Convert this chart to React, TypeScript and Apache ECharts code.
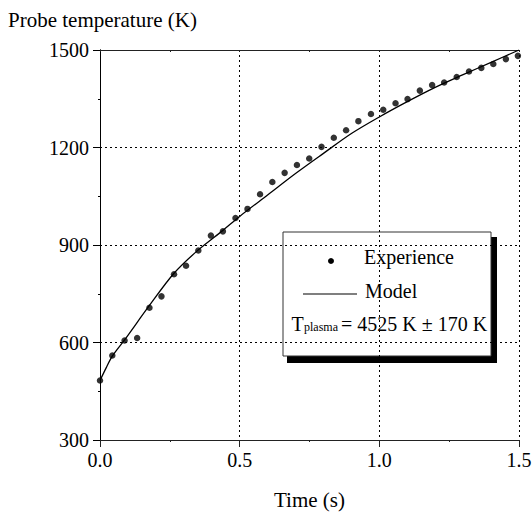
import React, { useEffect, useRef } from "react";
import * as echarts from "echarts";

const expTime = [0, 0.044, 0.088, 0.133, 0.177, 0.22, 0.265, 0.308, 0.352, 0.397, 0.44, 0.485, 0.528, 0.573, 0.617, 0.661, 0.705, 0.749, 0.793, 0.837, 0.881, 0.925, 0.97, 1.014, 1.058, 1.101, 1.145, 1.189, 1.232, 1.277, 1.321, 1.365, 1.408, 1.453, 1.496];
const expTemp = [483, 560, 606, 614, 707, 742, 810, 836, 883, 929, 942, 983, 1011, 1056, 1094, 1122, 1146, 1166, 1202, 1230, 1253, 1281, 1303, 1316, 1336, 1349, 1375, 1392, 1400, 1417, 1434, 1445, 1457, 1472, 1482];

const modelTime = [0, 0.022, 0.044, 0.088, 0.177, 0.265, 0.352, 0.44, 0.5, 0.6, 0.7, 0.8, 0.9, 1.0, 1.1, 1.2, 1.3, 1.4, 1.5];
const modelTemp = [483, 522, 558, 608, 714, 813, 885, 945, 988, 1054, 1120, 1182, 1243, 1294, 1341, 1385, 1424, 1462, 1500];

const yTitle = "Probe temperature (K)";
const xTitle = "Time (s)";
const legendExp = "Experience";
const legendModel = "Model";
const tLabelMain = "T";
const tLabelSub = "plasma";
const tLabelValue = "= 4525 K ± 170 K";

const FONT = "'Liberation Serif', 'Times New Roman', serif";

export default function App() {
  const ref = useRef<HTMLDivElement>(null);
  useEffect(() => {
    if (!ref.current) return;
    const chart = echarts.init(ref.current, null, { renderer: "svg" });
    const axisColor = "#222";
    chart.setOption({
      animation: false,
      backgroundColor: "#fff",
      title: {
        text: yTitle,
        left: 8,
        top: 9,
        padding: 0,
        textStyle: { fontFamily: FONT, fontSize: 21, fontWeight: "normal", color: "#000" },
      },
      grid: { left: 100, right: 13, top: 50, bottom: 72, containLabel: false, outerBoundsMode: "none" },
      xAxis: [
        {
          type: "value",
          position: "bottom",
          min: 0,
          max: 1.5,
          interval: 0.5,
          name: xTitle,
          nameLocation: "middle",
          nameGap: 49,
          nameTextStyle: { fontFamily: FONT, fontSize: 21, color: "#000" },
          axisLine: { show: true, lineStyle: { color: axisColor, width: 1 } },
          axisTick: { show: true, inside: false, length: 7, lineStyle: { color: axisColor } },
          minorTick: { show: true, splitNumber: 2, length: 2, lineStyle: { color: axisColor } },
          axisLabel: {
            fontFamily: FONT,
            fontSize: 20,
            color: "#000",
            margin: 10,
            formatter: (v: number) => v.toFixed(1),
          },
          splitLine: { show: true, lineStyle: { color: "#000", type: [2, 3], width: 1 } },
        },
        {
          type: "value",
          position: "top",
          min: 0,
          max: 1.5,
          interval: 0.25,
          axisLine: { show: true, lineStyle: { color: axisColor, width: 1 } },
          axisTick: { show: true, inside: true, length: 2, lineStyle: { color: axisColor } },
          axisLabel: { show: false },
          splitLine: { show: false },
        },
      ],
      yAxis: [
        {
          type: "value",
          position: "left",
          min: 300,
          max: 1500,
          interval: 300,
          axisLine: { show: true, lineStyle: { color: "#000", width: 1 } },
          axisTick: { show: true, inside: false, length: 7, lineStyle: { color: "#000" } },
          minorTick: { show: true, splitNumber: 2, length: 2, lineStyle: { color: "#000" } },
          axisLabel: {
            fontFamily: FONT,
            fontSize: 20,
            color: "#000",
            margin: 11,
            formatter: (v: number) => String(v),
          },
          splitLine: { show: true, lineStyle: { color: "#000", type: [2, 3], width: 1 } },
        },
        {
          type: "value",
          position: "right",
          min: 300,
          max: 1500,
          interval: 150,
          axisLine: { show: true, lineStyle: { color: "#000", width: 1 } },
          axisTick: { show: true, inside: true, length: 2, lineStyle: { color: "#000" } },
          axisLabel: { show: false },
          splitLine: { show: false },
        },
      ],
      series: [
        {
          name: legendModel,
          type: "line",
          xAxisIndex: 0,
          yAxisIndex: 0,
          smooth: 0.3,
          showSymbol: false,
          symbol: "none",
          lineStyle: { color: "#000", width: 1.3 },
          data: modelTime.map((t, i) => [t, modelTemp[i]]),
          z: 3,
        },
        {
          name: legendExp,
          type: "scatter",
          xAxisIndex: 0,
          yAxisIndex: 0,
          symbol: "circle",
          symbolSize: 6.5,
          itemStyle: { color: "#000" },
          data: expTime.map((t, i) => [t, expTemp[i]]),
          z: 4,
        },
      ],
      graphic: [
        {
          type: "group",
          z: 100,
          children: [
            { type: "rect", shape: { x: 287, y: 237, width: 210, height: 126 }, style: { fill: "#000" } },
            {
              type: "rect",
              shape: { x: 283, y: 232, width: 208, height: 124 },
              style: { fill: "#fff", stroke: "#333", lineWidth: 1 },
            },
            { type: "circle", shape: { cx: 331, cy: 261, r: 3 }, style: { fill: "#000" } },
            {
              type: "text",
              x: 364,
              y: 257,
              style: { text: legendExp, font: `20px ${FONT}`, fill: "#000", verticalAlign: "middle", align: "left" },
            },
            { type: "line", shape: { x1: 303, y1: 294, x2: 357, y2: 294 }, style: { stroke: "#000", lineWidth: 1.2 } },
            {
              type: "text",
              x: 365,
              y: 290.5,
              style: { text: legendModel, font: `20px ${FONT}`, fill: "#000", verticalAlign: "middle", align: "left" },
            },
            {
              type: "text",
              x: 291.5,
              y: 324,
              style: { text: tLabelMain, font: `20px ${FONT}`, fill: "#000", verticalAlign: "middle", align: "left" },
            },
            {
              type: "text",
              x: 304,
              y: 326.6,
              style: { text: tLabelSub, font: `12px ${FONT}`, fill: "#000", verticalAlign: "middle", align: "left" },
            },
            {
              type: "text",
              x: 341,
              y: 324,
              style: { text: tLabelValue, font: `20px ${FONT}`, fill: "#000", verticalAlign: "middle", align: "left" },
            },
          ],
        },
      ],
    });
    return () => chart.dispose();
  }, []);
  return (
    <div
      ref={ref}
      style={{ position: "fixed", left: 0, top: 0, width: 532, height: 512, background: "#fff" }}
    />
  );
}
